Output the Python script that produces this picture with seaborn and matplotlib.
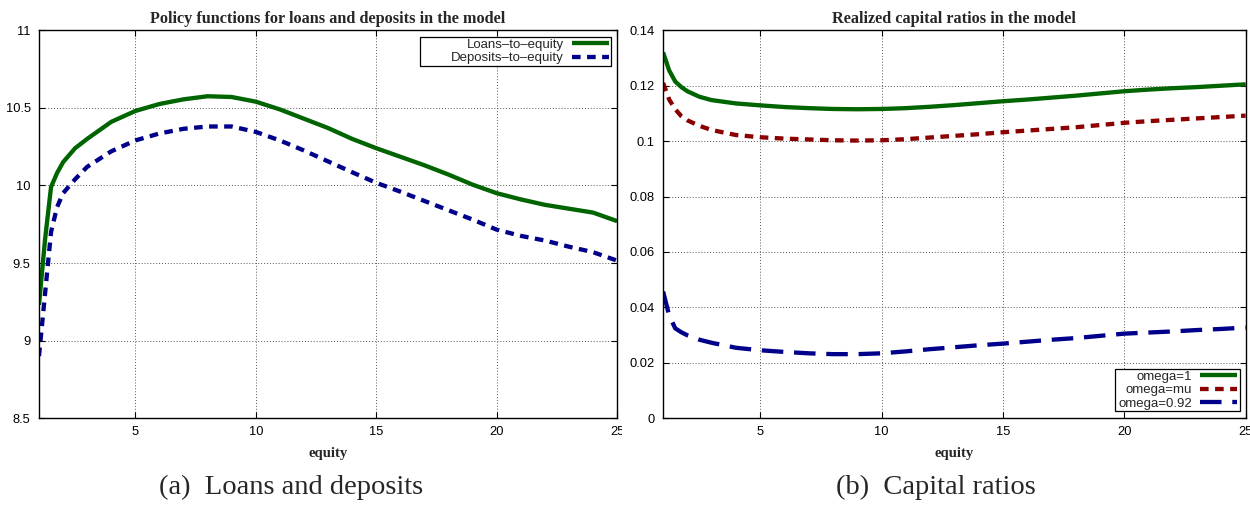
import numpy as np
import pandas as pd
import matplotlib
matplotlib.use("Agg")
import matplotlib.pyplot as plt
from matplotlib.patches import Rectangle
import seaborn as sns

# ---------------- data ----------------
equity = [1, 1.25, 1.5, 1.75, 2, 2.5, 3, 4, 5, 6, 7, 8, 9, 10, 11, 12, 13,
          14, 15, 16, 17, 18, 19, 20, 21, 22, 23, 24, 25]

loans = [9.23, 9.65, 9.99, 10.08, 10.15, 10.24, 10.30, 10.41, 10.48, 10.525,
         10.555, 10.575, 10.57, 10.54, 10.49, 10.43, 10.37, 10.30, 10.24,
         10.185, 10.13, 10.07, 10.005, 9.95, 9.91, 9.875, 9.85, 9.825, 9.77]

deposits = [8.90, 9.30, 9.70, 9.86, 9.95, 10.04, 10.12, 10.22, 10.29, 10.335,
            10.365, 10.38, 10.38, 10.345, 10.29, 10.225, 10.155, 10.085,
            10.017, 9.96, 9.90, 9.84, 9.78, 9.715, 9.675, 9.645, 9.605, 9.57,
            9.515]

omega_1 = [0.132, 0.1255, 0.1215, 0.1195, 0.118, 0.116, 0.1148, 0.1136,
           0.1129, 0.1123, 0.1119, 0.1116, 0.1115, 0.1116, 0.1119, 0.1124,
           0.113, 0.1137, 0.1144, 0.115, 0.1157, 0.1164, 0.1172, 0.118,
           0.1186, 0.1191, 0.1195, 0.12, 0.1205]

omega_mu = [0.121, 0.115, 0.1115, 0.109, 0.1075, 0.1055, 0.104, 0.1022,
            0.1014, 0.1009, 0.1006, 0.1003, 0.1002, 0.1003, 0.1007, 0.1013,
            0.1019, 0.1025, 0.1032, 0.1038, 0.1044, 0.105, 0.1058, 0.1066,
            0.1072, 0.1077, 0.1082, 0.1087, 0.1092]

omega_092 = [0.0457, 0.037, 0.0324, 0.031, 0.0299, 0.0283, 0.0272, 0.0254,
             0.0245, 0.0239, 0.0234, 0.0231, 0.0231, 0.0234, 0.0241, 0.0249,
             0.0256, 0.0263, 0.0269, 0.0276, 0.0283, 0.0289, 0.0297, 0.0305,
             0.0309, 0.0313, 0.0318, 0.0322, 0.0327]

x_ticks = [5, 10, 15, 20, 25]
left_yticks = [8.5, 9, 9.5, 10, 10.5, 11]
left_ylabels = ["8.5", "9", "9.5", "10", "10.5", "11"]
right_yticks = [0, 0.02, 0.04, 0.06, 0.08, 0.1, 0.12, 0.14]
right_ylabels = ["0", "0.02", "0.04", "0.06", "0.08", "0.1", "0.12", "0.14"]

titles = ["Policy functions for loans and deposits in the model",
          "Realized capital ratios in the model"]
captions = ["(a)  Loans and deposits", "(b)  Capital ratios"]
xlabel = "equity"

# ---------------- style ----------------
sns.set_style("white")
plt.rcParams["font.family"] = ["Liberation Sans", "DejaVu Sans"]

GREEN = "#006400"
BLUE = "#00008b"
RED = "#8b0000"
LW = 3.1

fig = plt.figure(figsize=(12.5, 5.05), dpi=100)
axL = fig.add_axes([0.0312, 0.172, 0.4625, 0.768])
axR = fig.add_axes([0.5305, 0.172, 0.4660, 0.768])
axR.set_zorder(2)

dfL = pd.DataFrame({"equity": equity, "loans": loans, "deposits": deposits})
dfR = pd.DataFrame({"equity": equity, "w1": omega_1, "wmu": omega_mu,
                    "w092": omega_092})

sns.lineplot(data=dfL, x="equity", y="loans", ax=axL, color=GREEN, lw=LW,
             label="Loans\u2013to\u2013equity", solid_capstyle="butt")
sns.lineplot(data=dfL, x="equity", y="deposits", ax=axL, color=BLUE, lw=LW,
             linestyle=(0, (2.0, 1.5)), label="Deposits\u2013to\u2013equity",
             dash_capstyle="butt")

sns.lineplot(data=dfR, x="equity", y="w1", ax=axR, color=GREEN, lw=LW,
             label="omega=1", solid_capstyle="butt")
sns.lineplot(data=dfR, x="equity", y="wmu", ax=axR, color=RED, lw=LW,
             linestyle=(0, (2.0, 1.5)), label="omega=mu", dash_capstyle="butt")
sns.lineplot(data=dfR, x="equity", y="w092", ax=axR, color=BLUE, lw=LW,
             linestyle=(0, (5.0, 2.5)), label="omega=0.92", dash_capstyle="butt")

legends = []
for ax, yt, yl, ylim, title, loc, extra in [
        (axL, left_yticks, left_ylabels, (8.5, 11), titles[0], "upper right", 28),
        (axR, right_yticks, right_ylabels, (0, 0.14), titles[1], "lower right", 1)]:
    ax.set_xlim(1, 25)
    ax.set_ylim(*ylim)
    ax.set_xticks(x_ticks)
    ax.set_xticklabels([str(t) for t in x_ticks])
    ax.set_yticks(yt)
    ax.set_yticklabels(yl)
    ax.tick_params(direction="in", length=4, width=0.8, top=True, right=True,
                   bottom=True, left=True, labelsize=9.3, colors="black",
                   pad=6)
    ax.grid(True, linestyle=(0, (1, 2)), color="#555555", linewidth=0.7)
    for s in ax.spines.values():
        s.set_color("black")
        s.set_linewidth(1.0)
        s.set_visible(True)
    ax.set_xlabel(xlabel, fontfamily="Liberation Serif", fontweight="bold",
                  fontsize=10.5, labelpad=6)
    ax.set_ylabel("")
    ax.set_title(title, fontfamily="Liberation Serif", fontweight="bold",
                 fontsize=11.7, pad=5)
    leg = ax.legend(loc=loc, markerfirst=False, frameon=False,
                    fontsize=9.5, handlelength=2.8, handletextpad=0.6,
                    labelspacing=0.08, borderpad=0.2, borderaxespad=0.45)
    legends.append((ax, leg, extra))

# draw a gnuplot-like key box around each legend
fig.canvas.draw()
for ax, leg, extra in legends:
    bb = leg.get_window_extent(fig.canvas.get_renderer())
    inv = ax.transAxes.inverted()
    (x0, y0) = inv.transform((bb.x0 - extra, bb.y0 + 1))
    (x1, y1) = inv.transform((bb.x1, bb.y1 - 1))
    ax.add_patch(Rectangle((x0, y0), x1 - x0, y1 - y0, transform=ax.transAxes,
                           facecolor="white", edgecolor="black", lw=0.9,
                           zorder=4.5, clip_on=False))

# gap between the two sub-figures (the left "25" is cut off in the source)
fig.patches.append(Rectangle((622 / 1250, 0.12), 8 / 1250, 0.2,
                             transform=fig.transFigure, facecolor="white",
                             edgecolor="none", zorder=1))

fig.text(0.233, 0.035, captions[0], ha="center", va="center",
         fontfamily="Liberation Serif", fontsize=20.5)
fig.text(0.749, 0.035, captions[1], ha="center", va="center",
         fontfamily="Liberation Serif", fontsize=20.5)

fig.savefig("out.png", dpi=100)
